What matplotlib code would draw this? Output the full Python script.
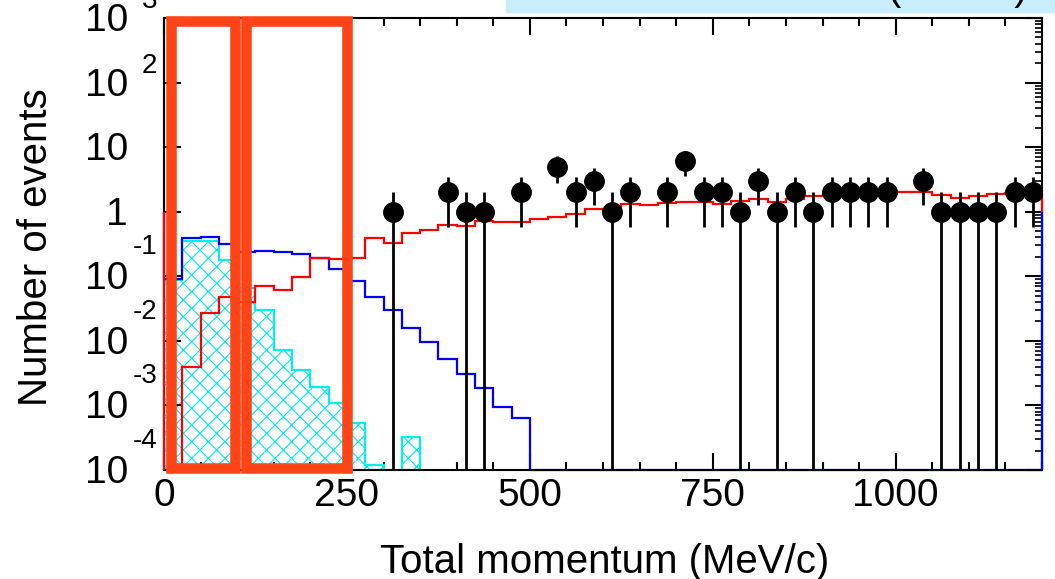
import numpy as np
import matplotlib.pyplot as plt
import matplotlib.transforms as mtransforms
from matplotlib.patches import Rectangle
from matplotlib.ticker import MultipleLocator, LogLocator, NullFormatter

plt.rcParams['font.family'] = ['Liberation Sans', 'DejaVu Sans']
plt.rcParams['hatch.linewidth'] = 0.8

# 25 MeV/c bins from 0 to 1200
bin_edges = np.arange(49) * 25.0

# cyan hatched histogram
cyan_vals = np.array([0.087, 0.35, 0.35, 0.18, 0.066, 0.030, 0.0073, 0.0035, 0.0019, 0.0011,
                      0.00054, 0.00012, 0, 0.00032] + [0] * 34)
# blue histogram
blue_vals = np.array([0.09, 0.39, 0.40, 0.32, 0.238, 0.25, 0.238, 0.221, 0.192, 0.130,
                      0.0845, 0.0477, 0.0301, 0.0158, 0.0096, 0.0052, 0.0031, 0.00186, 0.00095, 0.00064]
                     + [0] * 28)
# red histogram
red_vals = np.array([0, 0.0039, 0.027, 0.048, 0.040, 0.071, 0.061, 0.0975, 0.192, 0.185,
                     0.192, 0.39, 0.33, 0.47, 0.52, 0.62, 0.61, 0.72, 0.70, 0.70,
                     0.77, 0.82, 0.92, 1.10, 0.99, 1.32, 1.27, 1.36, 1.41, 1.43,
                     1.30, 1.48, 1.57, 1.43, 1.57, 1.77, 1.81, 1.85, 1.87, 1.93,
                     2.0, 2.0, 1.81, 1.65, 1.77, 1.87, 1.93, 1.93])
# observed events per bin
data_counts = np.array([0] * 12 + [1, 0, 0, 2, 1, 1, 0, 2, 0, 5, 2, 3, 1, 2, 0, 2, 6, 2,
                                   2, 1, 3, 1, 2, 1, 2, 2, 2, 2, 0, 3, 1, 1, 1, 1, 2, 2])

# highlighted momentum windows
boxes = [(9.6, 96.4), (112.0, 250.0)]

xtick_vals = [0, 250, 500, 750, 1000]
y_exps = [-4, -3, -2, -1, 0, 1, 2, 3]

ymin, ymax = 1e-4, 1e3

fig = plt.figure(figsize=(10.55, 5.79), dpi=100)
ax = fig.add_axes([164 / 1055, 1 - 470 / 579, 878 / 1055, 452 / 579])
ax.set_yscale('log')
ax.set_xlim(0, 1200)
ax.set_ylim(ymin, ymax)


def root_hist(vals, color, floor, zorder):
    # ROOT-style outline: steps plus edges dropping to 1 at both ends
    v = np.where(vals > 0, vals, floor)
    ax.stairs(v, bin_edges, baseline=None, color=color, lw=1.6, zorder=zorder,
              clip_on=(floor < ymin))
    for xe, ve in [(bin_edges[0], v[0]), (bin_edges[-1], v[-1])]:
        ax.vlines(xe, max(ve, ymin), 1.0, color=color, lw=1.6, zorder=zorder + 1, clip_on=False)


# cyan hatched fill
cyan_plot = np.where(cyan_vals > 0, cyan_vals, 1e-7)
ax.stairs(cyan_plot, bin_edges, baseline=1e-7, fill=True, facecolor='none',
          edgecolor='#00e8f0', hatch='xx', lw=0, zorder=1.5)
root_hist(cyan_vals, '#00f0f0', 1e-7, 2)
root_hist(blue_vals, '#0000ff', ymin, 2.1)
root_hist(red_vals, '#ff0000', 1e-7, 2.2)

# data points with Poisson errors
centers = 0.5 * (bin_edges[:-1] + bin_edges[1:])
m = data_counts > 0
n = data_counts[m].astype(float)
lo = np.maximum(n - np.sqrt(n), 1e-7)
hi = n + np.sqrt(n)
ax.vlines(centers[m], lo, hi, color='k', lw=2.0, zorder=4)
ax.plot(centers[m], n, 'o', ms=14, color='k', zorder=5)

# orange boxes
for x0, x1 in boxes:
    ax.add_patch(Rectangle((x0, 0.0044), x1 - x0, 0.99, transform=ax.get_xaxis_transform(),
                           fill=False, edgecolor='#ff4418', lw=7.6, joinstyle='miter',
                           clip_on=False, zorder=10))

# axes styling
for s in ax.spines.values():
    s.set_linewidth(1.5)
ax.set_xticks(xtick_vals)
ax.xaxis.set_minor_locator(MultipleLocator(50))
ax.tick_params(axis='x', which='both', direction='in', top=True, bottom=True,
               labelsize=28, pad=6, width=1.5)
ax.tick_params(axis='x', which='major', length=12)
ax.tick_params(axis='x', which='minor', length=5.5)

ax.set_yticks([10.0 ** e for e in y_exps])
ax.yaxis.set_minor_locator(LogLocator(base=10, subs=np.arange(2, 10)))
ax.yaxis.set_minor_formatter(NullFormatter())
ax.tick_params(axis='y', which='major', direction='in', left=True, right=True,
               labelleft=False, length=12, width=1.5)
ax.tick_params(axis='y', which='minor', direction='in', left=False, right=True,
               length=5, width=1.2)

# ROOT-like y tick labels: "10" with a detached exponent
ytr = ax.get_yaxis_transform()
for e in y_exps:
    v = 10.0 ** e
    base = '1' if e == 0 else '10'
    t = mtransforms.offset_copy(ytr, fig=fig, x=-36, y=-3, units='dots')
    ax.text(0, v, base, transform=t, ha='right', va='center', fontsize=28)
    if e not in (0, 1):
        dy = 17 if e > 0 else 29
        t2 = mtransforms.offset_copy(ytr, fig=fig, x=-7, y=dy, units='dots')
        ax.text(0, v, str(e), transform=t2, ha='right', va='center', fontsize=20)

ax.set_xlabel('Total momentum (MeV/c)', fontsize=29, va='baseline')
ax.xaxis.set_label_coords(0.502, -0.228)
ax.set_ylabel('Number of events', fontsize=29, va='baseline')
ax.yaxis.set_label_coords(-0.133, 0.492)

# partially visible title box at the top
fig.patches.append(Rectangle((506 / 1055, 1 - 12 / 579), 549 / 1055, 12 / 579,
                             transform=fig.transFigure, color='#c8eefc', zorder=0))
fig.text(888 / 1055, 1.0, '(MeV/c)', fontsize=29, ha='left', va='baseline')

fig.savefig('out.png', dpi=100)
